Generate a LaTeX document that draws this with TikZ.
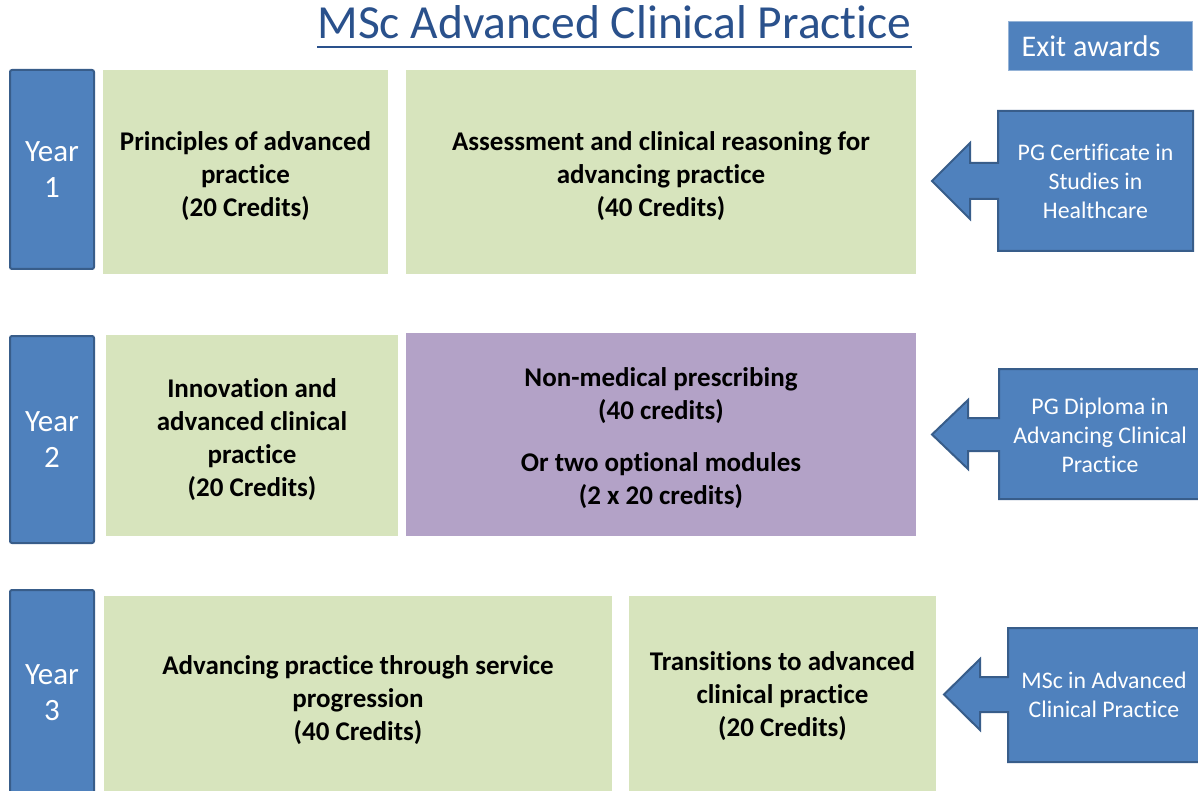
\documentclass[tikz,border=0pt]{standalone}
\usepackage{fontspec}
\setmainfont{Carlito}[Ligatures=NoCommon]
\usetikzlibrary{calc}
\definecolor{blueA}{HTML}{4F81BD}
\definecolor{blueB}{HTML}{385D8A}
\definecolor{greenA}{HTML}{D7E4BD}
\definecolor{purpleA}{HTML}{B3A2C7}
\definecolor{titlecol}{HTML}{2A518C}
\newcommand{\tstrut}{\rule{0pt}{27pt}}
\begin{document}
\begin{tikzpicture}[x=1pt,y=-1pt,
  yearbox/.style={draw=blueB, line width=2pt, fill=blueA, rounded corners=2pt, text=white,
    align=center, font=\fontsize{31}{36}\selectfont, inner sep=0pt},
  modbox/.style={fill=greenA, align=center, font=\fontsize{27}{33}\selectfont\bfseries, inner sep=0pt},
  arrowshape/.style={draw=blueB, line width=2pt, fill=blueA, line join=miter},
  arrowtext/.style={text=white, align=center, font=\fontsize{23.8}{29}\selectfont, inner sep=0pt}]
\useasboundingbox (0,0) rectangle (1198,791);
\fill[white] (0,0) rectangle (1198,791);
% title
\node[text=titlecol, font=\fontsize{47.5}{56}\selectfont, anchor=base, inner sep=0pt] (title) at (614.5,39) {MSc Advanced Clinical Practice};
\draw[titlecol, line width=2.8pt] ($(title.base west)+(0,8)$) -- ($(title.base east)+(0,8)$);
% exit awards
\node[fill=blueA, draw=blueA!60!white, line width=1pt, minimum width=184pt, minimum height=49pt, text=white,
  font=\fontsize{30}{34}\selectfont, inner sep=0pt] (exit) at (1100,46.5) {Exit awards\hspace*{18pt}};
% year boxes
\node[yearbox, minimum width=84pt, minimum height=199pt] (y1) at (52,169.5) {Year\\1};
\node[yearbox, minimum width=84pt, minimum height=207pt] (y2) at (52,439.5) {Year\\2};
\node[yearbox, minimum width=84pt, minimum height=205pt] (y3) at (52,692.5) {Year\\3};
% year 1 modules
\node[modbox, minimum width=285pt, minimum height=204pt] (m11) at (245.5,172) {\tstrut Principles of advanced\\practice\\(20 Credits)};
\node[modbox, minimum width=510pt, minimum height=204pt] (m12) at (661,172) {\tstrut Assessment and clinical reasoning for\\advancing practice\\(40 Credits)};
% year 2 modules
\node[modbox, minimum width=292pt, minimum height=201pt] (m21) at (252,435.5) {\tstrut Innovation and\\advanced clinical\\practice\\(20 Credits)};
\node[modbox, fill=purpleA, minimum width=510pt, minimum height=203pt] (m22) at (661,434.5) {\tstrut Non-medical prescribing\\(40 credits)\\[19pt]Or two optional modules\\(2 x 20 credits)};
% year 3 modules
\node[modbox, minimum width=508pt, minimum height=200pt] (m31) at (358,696) {\tstrut Advancing practice through service\\progression\\(40 Credits)};
\node[modbox, minimum width=307pt, minimum height=200pt] (m32) at (782.5,696) {Transitions to advanced\\clinical practice\\(20 Credits)};
% exit award arrows
\draw[arrowshape] (1193,111) -- (998,111) -- (998,163) -- (970,163) -- (970,143) -- (932,181)
  -- (970,219) -- (970,199) -- (998,199) -- (998,251) -- (1193,251) -- cycle;
\node[arrowtext] (a1) at (1095.5,181) {PG Certificate in\\Studies in\\Healthcare};
\draw[arrowshape] (1202,369) -- (999,369) -- (999,418) -- (968,418) -- (968,400) -- (932,434.5)
  -- (968,469) -- (968,451) -- (999,451) -- (999,499) -- (1202,499) -- cycle;
\node[arrowtext] (a2) at (1100,435) {PG Diploma in\\Advancing Clinical\\Practice};
\draw[arrowshape] (1202,628) -- (1008,628) -- (1008,677) -- (980,677) -- (980,659) -- (944,694.5)
  -- (980,730) -- (980,712) -- (1008,712) -- (1008,762) -- (1202,762) -- cycle;
\node[arrowtext] (a3) at (1104,695) {MSc in Advanced\\Clinical Practice};
\end{tikzpicture}
\end{document}
